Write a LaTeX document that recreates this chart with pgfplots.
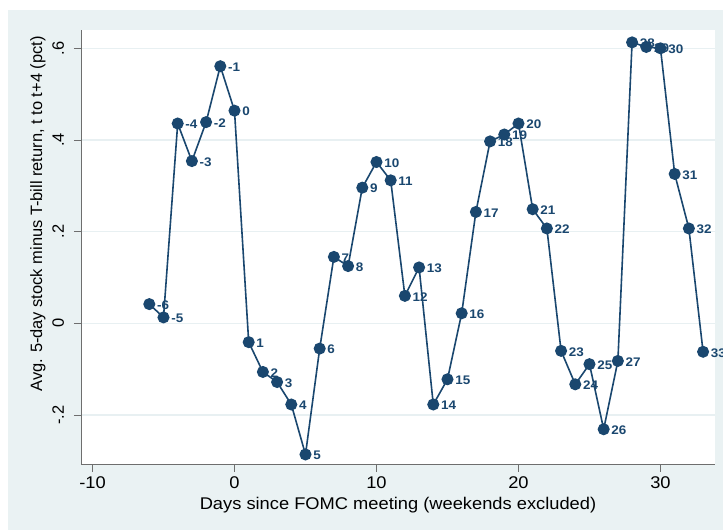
\documentclass[border=0pt]{standalone}
\usepackage{pgfplots}
\pgfplotsset{compat=1.18}
\usepackage{pgfplotstable}
\usepackage{fontspec}
\setmainfont{Liberation Sans}
\newfontfamily\hfont{Liberation Sans}[FakeStretch=1.08]
\definecolor{bgc}{RGB}{234,242,243}
\definecolor{navy}{RGB}{26,71,111}
\definecolor{gridc}{RGB}{232,240,242}
\definecolor{axc}{RGB}{110,110,110}

\pgfplotstableread{
x y lab
-6 0.042 -6
-5 0.013 -5
-4 0.436 -4
-3 0.354 -3
-2 0.439 -2
-1 0.561 -1
0 0.464 0
1 -0.041 1
2 -0.106 2
3 -0.128 3
4 -0.177 4
5 -0.286 5
6 -0.055 6
7 0.145 7
8 0.125 8
9 0.296 9
10 0.352 10
11 0.312 11
12 0.060 12
13 0.122 13
14 -0.177 14
15 -0.122 15
16 0.022 16
17 0.243 17
18 0.397 18
19 0.412 19
20 0.436 20
21 0.249 21
22 0.207 22
23 -0.060 23
24 -0.133 24
25 -0.089 25
26 -0.231 26
27 -0.082 27
28 0.613 28
29 0.603 29
30 0.600 30
31 0.326 31
32 0.207 32
33 -0.062 33
}\datatable

\begin{document}
\begin{tikzpicture}
\fill[white] (0bp,0bp) rectangle (723bp,530bp);
\fill[bgc] (8bp,0bp) rectangle (723bp,520bp);
\begin{axis}[
  at={(81bp,65bp)}, anchor=south west,
  scale only axis, width=634bp, height=435bp,
  xmin=-10.81, xmax=33.84, ymin=-0.309, ymax=0.640,
  axis x line=bottom, axis y line=left,
  axis line style={-, draw=axc, line width=1bp},
  axis background/.style={fill=white},
  tick align=outside, major tick length=7bp,
  tick style={draw=axc, line width=0.8bp},
  xtick={-10,0,10,20,30},
  ytick={-0.2,0,0.2,0.4,0.6},
  yticklabels={-.2,0,.2,.4,.6},
  /pgf/number format/assume math mode=true,
  ymajorgrids,
  grid style={draw=gridc, line width=1.5bp},
  xticklabel style={font=\hfont\fontsize{17}{20}\selectfont, anchor=base, yshift=-17bp, inner sep=0pt},
  yticklabel style={font=\fontsize{16.5}{20}\selectfont, xshift=-10bp, rotate=90, anchor=base, inner sep=0pt},
  xlabel={Days since FOMC meeting (weekends excluded)},
  ylabel={Avg. 5-day stock minus T-bill return, t to t+4 (pct)},
  xlabel style={at={(axis description cs:0.5,0)}, anchor=base, yshift=-44bp, inner sep=0pt, font=\hfont\fontsize{17}{20}\selectfont},
  ylabel style={at={(axis description cs:-0.0615,0.577)}, anchor=base, inner sep=0pt, font=\fontsize{16.5}{20}\selectfont},
  clip=false,
]
\addplot[color=navy, line width=1.6bp, mark=*, mark size=5.2bp, mark options={fill=navy, draw=navy},
  nodes near coords, point meta=explicit symbolic,
  nodes near coords style={anchor=west, inner sep=0pt, xshift=7bp, yshift=-1bp, text=navy, font=\hfont\bfseries\fontsize{12.5}{14}\selectfont}]
  table[x=x, y=y, meta=lab] {\datatable};
\end{axis}
\pgfresetboundingbox
\useasboundingbox (0bp,0bp) rectangle (723bp,530bp);
\end{tikzpicture}
\end{document}
